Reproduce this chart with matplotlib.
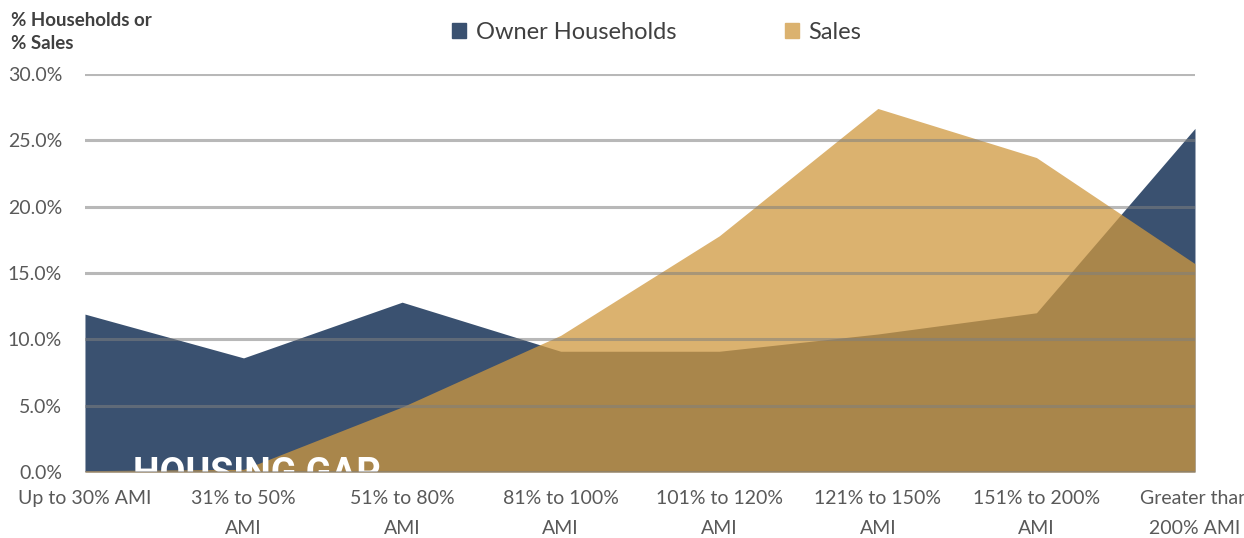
import numpy as np
import matplotlib.pyplot as plt
from matplotlib.patches import Patch

plt.rcParams['font.family'] = ['Lato', 'DejaVu Sans']

# %%
categories = ['Up to 30% AMI', '31% to 50%\nAMI', '51% to 80%\nAMI', '81% to 100%\nAMI',
              '101% to 120%\nAMI', '121% to 150%\nAMI', '151% to 200%\nAMI', 'Greater than\n200% AMI']
owner_households = [11.9, 8.6, 12.8, 9.1, 9.1, 10.4, 12.0, 25.9]
sales = [0.1, 0.2, 4.9, 10.3, 17.8, 27.4, 23.7, 15.7]
yticks = [0, 5, 10, 15, 20, 25, 30]

navy = '#3a5170'
gold = '#cf983f'

# %%
fig = plt.figure(figsize=(12.44, 5.38), dpi=100)
ax = fig.add_axes([0.0683, 0.1227, 0.8923, 0.7398])

x = np.arange(len(categories))
ax.fill_between(x, 0, owner_households, color=navy, lw=0, zorder=2)
ax.fill_between(x, 0, sales, color=gold, alpha=0.75, lw=0, zorder=3)

for t in yticks:
    ax.axhline(t, color='#7f7f7f', lw=2.2, alpha=0.55, zorder=7)

ax.set_xlim(0, len(categories) - 1)
ax.set_ylim(0, 30)
ax.set_yticks(yticks)
ax.set_yticklabels(['{:.1f}%'.format(t) for t in yticks], fontsize=14, color='#595959')
ax.set_xticks(x)
ax.set_xticklabels(categories, fontsize=14, color='#595959', linespacing=1.9)
ax.tick_params(axis='x', length=0, pad=13)
ax.tick_params(axis='y', length=0, pad=16.5)
for s in ax.spines.values():
    s.set_visible(False)

# white title sitting mostly below the baseline, clipped by the axes
ax.text(0.3, -0.96, 'HOUSING GAP', color='white', fontsize=27, fontweight='bold',
        va='baseline', ha='left', zorder=6, family='Roboto', clip_on=True)

fig.text(0.009, 0.978, '% Households or\n% Sales', fontsize=13.5, fontweight='bold',
         color='#404040', va='top', ha='left', linespacing=1.45)

handles = [Patch(color=navy, label='Owner Households'),
           Patch(color='#dbb26f', label='Sales')]
fig.legend(handles=handles, loc='center', bbox_to_anchor=(0.528, 0.94), ncol=2, frameon=False,
           fontsize=17, labelcolor='#404040', handlelength=0.6, handleheight=0.6,
           handletextpad=0.4, columnspacing=4.6)

fig.savefig('out.png', dpi=100)
